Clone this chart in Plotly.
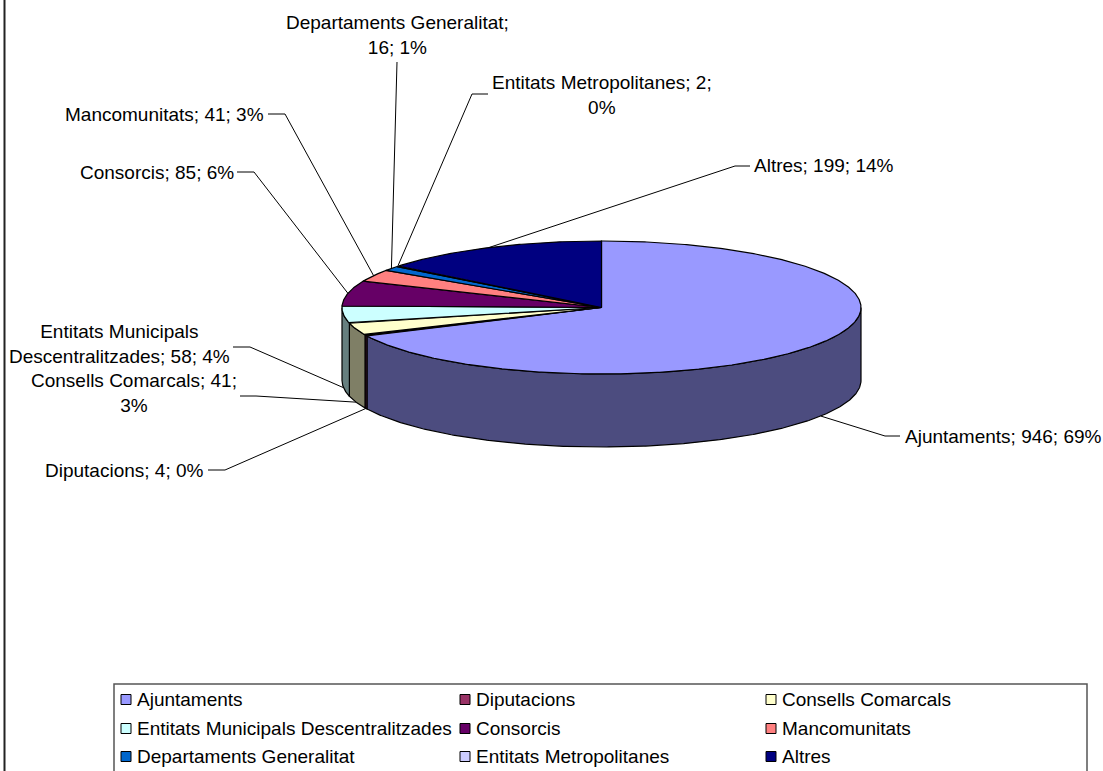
import numpy as np
import plotly.graph_objects as go

# ---------------- data ----------------
categories = ["Ajuntaments", "Diputacions", "Consells Comarcals",
              "Entitats Municipals Descentralitzades", "Consorcis", "Mancomunitats",
              "Departaments Generalitat", "Entitats Metropolitanes", "Altres"]
values = [946, 4, 41, 58, 85, 41, 16, 2, 199]
percent_labels = ["69%", "0%", "3%", "4%", "6%", "3%", "1%", "0%", "14%"]

# ---------------- styles ----------------
top_colors = ["#9999FF", "#993366", "#FFFFCC", "#CCFFFF", "#660066",
              "#FF8080", "#0066CC", "#CCCCFF", "#000080"]

def darker(hexcol, f=0.5):
    h = hexcol.lstrip("#")
    r, g, b = (int(h[i:i + 2], 16) for i in (0, 2, 4))
    return "#%02X%02X%02X" % (int(r * f), int(g * f), int(b * f))

side_colors = [darker(c) for c in top_colors]

W, H = 1103, 771
FONT = "Liberation Sans, Arial, sans-serif"
FS = 19
FS_LEG = 19

# pie geometry (screen pixels)
CX, CY, RX, RY, DEPTH = 601.5, 307.5, 259.5, 66.5, 73

# label layout (positions only)
label_layout = {
    "Ajuntaments": dict(x=903, y=436, xa="left", elbow=(885, 436), end=(900, 436), brk=None),
    "Diputacions": dict(x=206, y=470, xa="right", elbow=(225, 470), end=(208, 470), brk=None),
    "Consells Comarcals": dict(x=239, y=393, xa="right", elbow=(256, 396), end=(240, 396), brk="value"),
    "Entitats Municipals Descentralitzades": dict(x=232, y=344, xa="right", elbow=(250, 347), end=(233, 347), brk="name"),
    "Consorcis": dict(x=236, y=172, xa="right", elbow=(254, 172), end=(237, 172), brk=None),
    "Mancomunitats": dict(x=266, y=114, xa="right", elbow=(285, 114), end=(268, 114), brk=None),
    "Departaments Generalitat": dict(x=397, y=35, xa="center", elbow=(397, 62), end=None, brk="first"),
    "Entitats Metropolitanes": dict(x=490, y=95, xa="left", elbow=(472, 94), end=(488, 94), brk="value"),
    "Altres": dict(x=752, y=165, xa="left", elbow=(735, 166), end=(750, 166), brk=None),
}

def label_text(cat, v, p, brk):
    if brk == "value":      # break after the value
        return f"{cat}; {v};<br>{p}"
    if brk == "first":      # break after the name
        return f"{cat};<br>{v}; {p}"
    if brk == "name":       # break inside the name
        w = cat.split(" ")
        return " ".join(w[:2]) + "<br>" + " ".join(w[2:]) + f"; {v}; {p}"
    return f"{cat}; {v}; {p}"

fig = go.Figure()

total = float(sum(values))
cum = np.concatenate([[0.0], np.cumsum(values)]) / total * 2 * np.pi
starts, ends = cum[:-1], cum[1:]

def top_pt(t):
    return CX + RX * np.sin(t), CY - RY * np.cos(t)

# ---------- walls (front half only) ----------
for i, cat in enumerate(categories):
    a = max(starts[i], np.pi / 2)
    b = min(ends[i], 3 * np.pi / 2)
    if a >= b:
        continue
    t = np.linspace(a, b, max(4, int((b - a) * 120)))
    xt, yt = top_pt(t)
    xs = np.concatenate([xt, xt[::-1], xt[:1]])
    ys = np.concatenate([yt, (yt + DEPTH)[::-1], yt[:1]])
    fig.add_trace(go.Scatter(x=xs, y=ys, mode="lines", fill="toself",
                             fillcolor=side_colors[i],
                             line=dict(color="black", width=1.2),
                             hoverinfo="skip", showlegend=False))

# ---------- tops ----------
for i, cat in enumerate(categories):
    t = np.linspace(starts[i], ends[i], max(3, int((ends[i] - starts[i]) * 120)))
    xt, yt = top_pt(t)
    xs = np.concatenate([[CX], xt, [CX]])
    ys = np.concatenate([[CY], yt, [CY]])
    fig.add_trace(go.Scatter(x=xs, y=ys, mode="lines", fill="toself",
                             fillcolor=top_colors[i],
                             line=dict(color="black", width=1.2),
                             hoverinfo="text", text=f"{cat}: {values[i]}",
                             showlegend=False))

# ---------- labels + leader lines ----------
annotations = []
for i, cat in enumerate(categories):
    mid = (starts[i] + ends[i]) / 2
    ax, ay = top_pt(mid)
    if np.cos(mid) < 0:
        ay += DEPTH
    L = label_layout[cat]
    lx = [ax, L["elbow"][0]]
    ly = [ay, L["elbow"][1]]
    if L["end"] is not None:
        lx.append(L["end"][0])
        ly.append(L["end"][1])
    fig.add_trace(go.Scatter(x=lx, y=ly, mode="lines",
                             line=dict(color="black", width=1),
                             hoverinfo="skip", showlegend=False))
    annotations.append(dict(x=L["x"], y=L["y"], xref="x", yref="y",
                            text=label_text(cat, values[i], percent_labels[i], L["brk"]),
                            showarrow=False,
                            xanchor=L["xa"], yanchor="middle", align="center",
                            font=dict(family=FONT, size=FS, color="black")))

# ---------- legend (boxed, three columns) ----------
shapes = []
shapes.append(dict(type="rect", xref="x", yref="y", x0=114, x1=1087, y0=684, y1=800,
                   line=dict(color="#555555", width=1.5), fillcolor="rgba(0,0,0,0)", layer="above"))
shapes.append(dict(type="line", xref="x", yref="y", x0=4.5, x1=4.5, y0=-5, y1=800,
                   line=dict(color="#222222", width=2)))
col_x = [121, 460, 766]
row_y = [699.5, 728.5, 756.5]
for i, cat in enumerate(categories):
    c, r = i % 3, i // 3
    x0, yc = col_x[c], row_y[r]
    shapes.append(dict(type="rect", xref="x", yref="y", x0=x0, x1=x0 + 10,
                       y0=yc - 5, y1=yc + 5, fillcolor=top_colors[i],
                       line=dict(color="black", width=1)))
    annotations.append(dict(x=x0 + 14, y=yc, xref="x", yref="y", text=cat,
                            showarrow=False, xanchor="left", yanchor="middle",
                            font=dict(family=FONT, size=FS_LEG, color="black")))

fig.update_layout(
    width=W, height=H,
    margin=dict(l=0, r=0, t=0, b=0),
    paper_bgcolor="white", plot_bgcolor="white",
    xaxis=dict(range=[0, W], visible=False, fixedrange=True),
    yaxis=dict(range=[H, 0], visible=False, fixedrange=True),
    annotations=annotations, shapes=shapes,
    showlegend=False,
)

fig.write_html(
    "out.html",
    config={"displayModeBar": False},
    post_script="document.body.style.margin='0';document.body.style.overflow='hidden';",
)
